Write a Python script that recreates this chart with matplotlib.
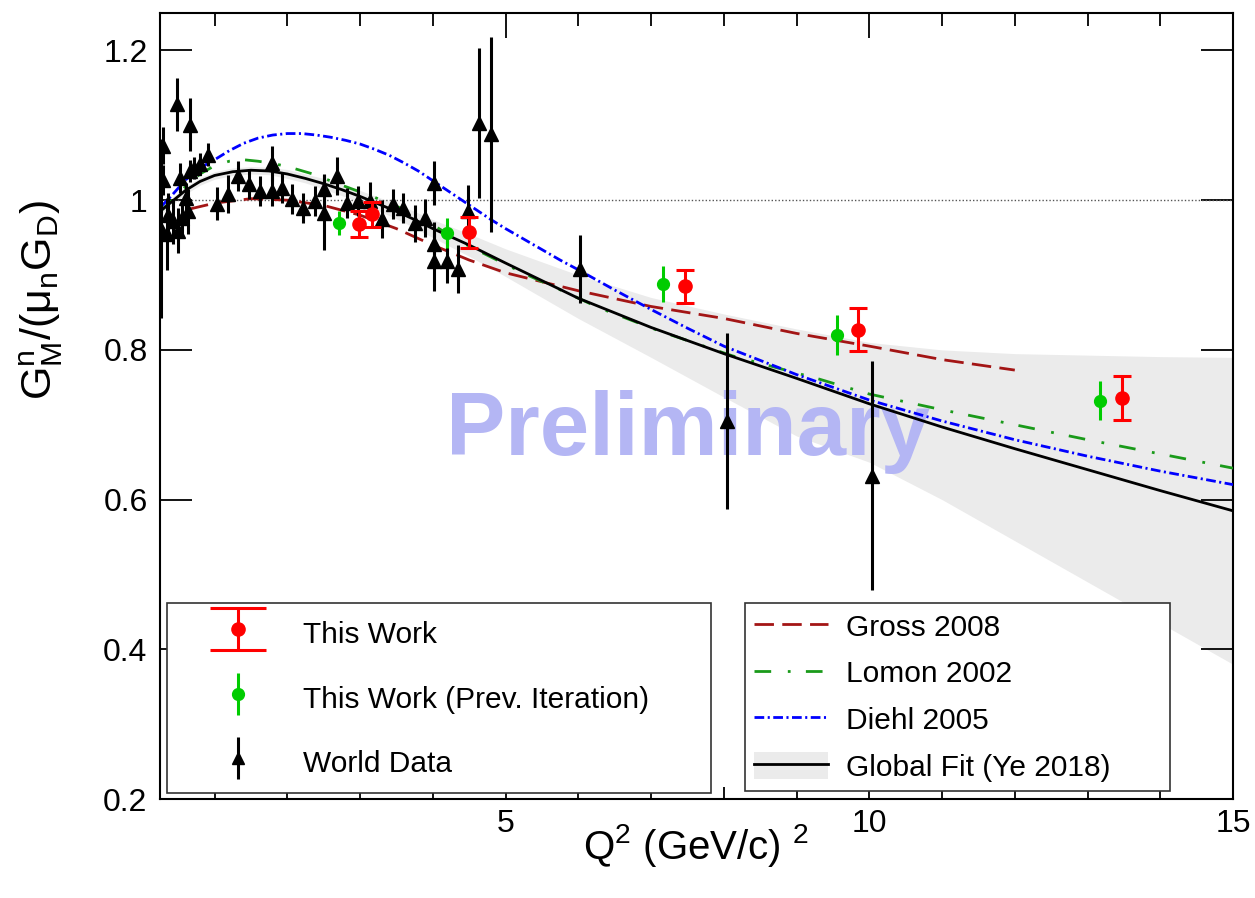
import numpy as np
import matplotlib.pyplot as plt
from matplotlib.lines import Line2D
from matplotlib.patches import Patch
from matplotlib.container import ErrorbarContainer
from matplotlib.legend_handler import HandlerErrorbar

plt.rcParams['font.family'] = ['Liberation Sans', 'DejaVu Sans']
plt.rcParams['mathtext.fontset'] = 'custom'
plt.rcParams['mathtext.rm'] = 'Liberation Sans'
plt.rcParams['mathtext.it'] = 'Liberation Sans'
plt.rcParams['lines.scale_dashes'] = False

# 本工作 (红)
tw_q = [2.99, 3.16, 4.50, 7.47, 9.85, 13.48]
tw_y = [0.968, 0.981, 0.957, 0.885, 0.827, 0.736]
tw_err = [0.017, 0.017, 0.021, 0.022, 0.029, 0.029]

# 上一次迭代 (绿)
prev_q = [2.71, 4.20, 7.17, 9.56, 13.17]
prev_y = [0.969, 0.956, 0.888, 0.820, 0.732]
prev_err = [0.016, 0.020, 0.024, 0.027, 0.026]

# 世界数据 (黑三角)
world_q = [0.27, 0.29, 0.29, 0.34, 0.36, 0.43, 0.48, 0.50, 0.55, 0.52, 0.61, 0.63,
           0.66, 0.66, 0.72, 0.80, 0.91, 1.03, 1.18, 1.32, 1.48, 1.62, 1.79, 1.79,
           1.92, 2.07, 2.21, 2.38, 2.51, 2.51, 2.68, 2.82, 2.97, 3.13, 3.30, 3.45,
           3.59, 3.75, 3.89, 4.02, 4.02, 4.02, 4.19, 4.34, 4.48, 4.64, 4.80, 6.02,
           8.04, 10.04]
world_y = [0.962, 1.073, 1.027, 0.955, 0.980, 0.972, 1.128, 0.959, 0.976, 1.030, 1.003, 0.985,
           1.101, 1.039, 1.043, 1.048, 1.061, 0.995, 1.008, 1.032, 1.021, 1.012, 1.049, 1.012,
           1.016, 1.001, 0.990, 0.999, 1.015, 0.983, 1.032, 0.996, 0.999, 0.999, 0.975, 0.995,
           0.990, 0.969, 0.976, 1.023, 0.941, 0.919, 0.919, 0.908, 0.985, 1.103, 1.088, 0.908,
           0.705, 0.632]
world_err = [0.12, 0.025, 0.02, 0.048, 0.03, 0.03, 0.035, 0.03, 0.025, 0.02, 0.02, 0.03,
             0.035, 0.015, 0.015, 0.015, 0.015, 0.022, 0.025, 0.02, 0.02, 0.02, 0.024, 0.02,
             0.02, 0.02, 0.02, 0.02, 0.02, 0.05, 0.025, 0.02, 0.02, 0.025, 0.025, 0.02,
             0.02, 0.025, 0.025, 0.029, 0.03, 0.04, 0.03, 0.032, 0.035, 0.10, 0.13, 0.045,
             0.117, 0.153]

# 理论曲线
gross_q = [0.65, 1.0, 1.5, 2.0, 2.5, 3.0, 3.5, 4.0, 4.5, 5.0, 6.0, 7.0, 8.0, 9.0, 10.0, 11.0, 12.0]
gross_y = [0.988, 0.996, 1.002, 1.000, 0.993, 0.980, 0.962, 0.940, 0.920, 0.903, 0.879, 0.858,
           0.842, 0.822, 0.805, 0.787, 0.773]

lomon_q = [0.25, 0.4, 0.6, 0.8, 1.0, 1.2, 1.4, 1.6, 1.8, 2.0, 2.35, 2.72, 3.17, 3.64, 4.0,
           4.37, 4.82, 5.3, 5.78, 6.29, 7.12, 8.12, 9.31, 10.0, 11.0, 12.0, 13.0, 14.0, 15.0]
lomon_y = [0.985, 0.998, 1.018, 1.035, 1.046, 1.052, 1.054, 1.052, 1.049, 1.045, 1.035, 1.021,
           1.005, 0.986, 0.967, 0.945, 0.923, 0.900, 0.879, 0.856, 0.825, 0.792, 0.761, 0.741,
           0.720, 0.700, 0.680, 0.661, 0.642]

diehl_q = [0.25, 0.4, 0.6, 0.8, 1.0, 1.2, 1.4, 1.6, 1.8, 2.0, 2.2, 2.4, 2.6, 2.8, 3.0, 3.2,
           3.4, 3.6, 3.8, 4.0, 4.2, 4.4, 4.6, 4.8, 5.0, 5.25, 5.5, 5.75, 6.0, 6.5, 7.0, 7.5,
           8.0, 8.5, 9.0, 9.5, 10.0, 11.0, 12.0, 13.0, 14.0, 15.0]
diehl_y = [0.990, 1.005, 1.027, 1.043, 1.054, 1.066, 1.076, 1.083, 1.087, 1.089, 1.089, 1.087,
           1.084, 1.080, 1.075, 1.068, 1.060, 1.050, 1.039, 1.026, 1.013, 1.000, 0.987, 0.974,
           0.962, 0.948, 0.934, 0.920, 0.907, 0.880, 0.854, 0.829, 0.805, 0.786, 0.767, 0.750,
           0.733, 0.705, 0.680, 0.658, 0.638, 0.620]

# 全局拟合 (Ye 2018) 及误差带
fit_q = [0.25, 0.4, 0.6, 0.8, 1.0, 1.25, 1.5, 1.75, 2.0, 2.25, 2.5, 2.75, 3.0, 3.25, 3.5,
         3.75, 4.0, 4.5, 5.0, 6.0, 7.0, 8.0, 9.0, 10.0, 11.0, 12.0, 13.0, 14.0, 15.0]
fit_y = [0.985, 0.997, 1.013, 1.025, 1.033, 1.038, 1.040, 1.039, 1.035, 1.029, 1.022, 1.014,
         1.005, 0.995, 0.985, 0.974, 0.962, 0.940, 0.916, 0.869, 0.830, 0.795, 0.762, 0.728,
         0.697, 0.668, 0.640, 0.612, 0.585]
band_lo = [0.980, 0.992, 1.008, 1.020, 1.028, 1.033, 1.035, 1.034, 1.029, 1.023, 1.015, 1.006,
           0.997, 0.986, 0.975, 0.963, 0.950, 0.925, 0.898, 0.842, 0.790, 0.737, 0.685, 0.650,
           0.600, 0.545, 0.490, 0.435, 0.380]
band_hi = [0.990, 1.002, 1.018, 1.030, 1.038, 1.043, 1.045, 1.044, 1.041, 1.035, 1.029, 1.021,
           1.013, 1.004, 0.995, 0.985, 0.974, 0.955, 0.935, 0.900, 0.870, 0.848, 0.828, 0.810,
           0.800, 0.795, 0.793, 0.791, 0.790]

fig = plt.figure(figsize=(12.55, 8.98), dpi=100)
ax = fig.add_axes([0.1275, 0.1102, 0.855, 0.8753])

ax.fill_between(fit_q, band_lo, band_hi, color='#ebebeb', lw=0, zorder=1)
ax.text(0.492, 0.4377, 'Preliminary', transform=ax.transAxes, ha='center', va='baseline',
        fontsize=64, fontweight='bold', color='#b4b6f4', zorder=2)
ax.axhline(1.0, color='#555555', ls=(0, (1, 1.5)), lw=1, zorder=2)

ax.plot(gross_q, gross_y, color='#a31515', lw=2, dashes=(14, 6), zorder=3)
ax.plot(lomon_q, lomon_y, color='#1a9a1a', lw=2, dashes=(12, 12, 2, 11), zorder=3)
ax.plot(diehl_q, diehl_y, color='#0000ff', lw=2, dashes=(7, 2.5, 1.5, 2.5), zorder=3)
ax.plot(fit_q, fit_y, color='black', lw=2, zorder=3)

ax.errorbar(world_q, world_y, yerr=world_err, fmt='^', color='black', ms=10.5, lw=2.2,
            capsize=0, zorder=4)
ax.errorbar(prev_q, prev_y, yerr=prev_err, fmt='o', color='#00cc00', ms=8.5, lw=2.2,
            capsize=0, zorder=5)
ax.errorbar(tw_q, tw_y, yerr=tw_err, fmt='o', color='red', ms=9.5, lw=2.2,
            capsize=6.8, capthick=2.2, zorder=6)

# 图例用的代理 (大端帽)
h_tw = ax.errorbar([np.nan], [np.nan], yerr=[np.nan], fmt='o', color='red', ms=9.5, lw=2.2,
                   capsize=20.5, capthick=2.2)
h_prev = ax.errorbar([np.nan], [np.nan], yerr=[np.nan], fmt='o', color='#00cc00', ms=8.5,
                     lw=2.2, capsize=0)
h_world = ax.errorbar([np.nan], [np.nan], yerr=[np.nan], fmt='^', color='black', ms=9,
                      lw=2.2, capsize=0)

ax.set_xlim(0.25, 15)
ax.set_ylim(0.2, 1.25)
ax.set_xticks([5, 10, 15])
ax.set_xticks([q for q in range(1, 15) if q % 5], minor=True)
ax.set_yticks([0.2, 0.4, 0.6, 0.8, 1.0, 1.2])
ax.set_yticklabels(['0.2', '0.4', '0.6', '0.8', '1', '1.2'])
ax.tick_params(axis='both', which='both', direction='in', top=True, right=True,
               labelsize=23, width=1.3)
ax.tick_params(axis='x', which='major', length=18, pad=7)
ax.tick_params(axis='x', which='minor', length=9)
ax.tick_params(axis='y', which='major', length=23, pad=9)
for s in ax.spines.values():
    s.set_linewidth(1.5)

ax.set_xlabel(r'Q$^{2}$ (GeV/c) $^{2}$', fontsize=29)
ax.xaxis.set_label_coords(0.5, -0.029)
ax.set_ylabel(r'G$^{n}_{M}$/(μ$_{n}$G$_{D}$)', fontsize=31)
ax.yaxis.set_label_coords(-0.0885, 0.635)

hmap = {ErrorbarContainer: HandlerErrorbar(xerr_size=0.5, yerr_size=0.7)}
leg1 = ax.legend([h_tw, h_prev, h_world],
                 ['This Work', 'This Work (Prev. Iteration)', 'World Data'],
                 loc='upper left', bbox_to_anchor=(0.0065, 0.249, 0.507, 0.0),
                 mode='expand', borderaxespad=0, fontsize=21.5, handler_map=hmap,
                 handlelength=3.95, handleheight=1.5, handletextpad=0.2, labelspacing=0.94,
                 borderpad=0.4, fancybox=False, framealpha=1, edgecolor='#333333')
leg1.get_frame().set_linewidth(1.2)
ax.add_artist(leg1)

fit_handle = (Patch(facecolor='#ebebeb', edgecolor='none'), Line2D([], [], color='black', lw=2))
leg2 = ax.legend([Line2D([], [], color='#a31515', lw=2, dashes=(14, 6)),
                  Line2D([], [], color='#1a9a1a', lw=2, dashes=(12, 12, 2, 11)),
                  Line2D([], [], color='#0000ff', lw=2, dashes=(7, 2.5, 1.5, 2.5)),
                  fit_handle],
                 ['Gross 2008', 'Lomon 2002', 'Diehl 2005', 'Global Fit (Ye 2018)'],
                 loc='upper left', bbox_to_anchor=(0.545, 0.249, 0.396, 0.0),
                 mode='expand', borderaxespad=0, fontsize=21.5, handlelength=2.5,
                 handleheight=1.0, handletextpad=0.6, labelspacing=0.57, borderpad=0.3,
                 fancybox=False, framealpha=1, edgecolor='#333333')
leg2.get_frame().set_linewidth(1.2)

fig.savefig('out.png', dpi=100)
